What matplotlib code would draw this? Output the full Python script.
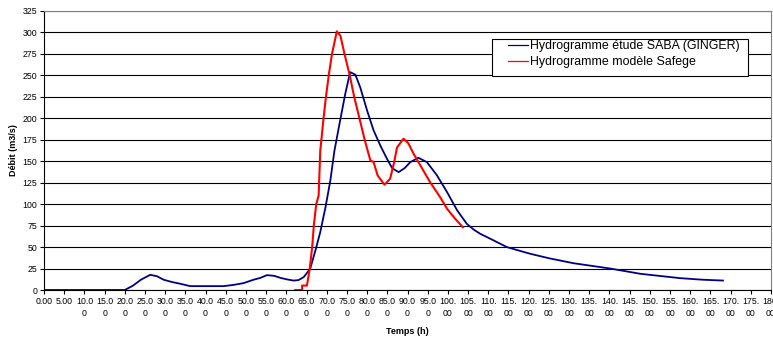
import numpy as np
import matplotlib
matplotlib.use("Agg")
import matplotlib.pyplot as plt
from matplotlib.patches import Rectangle

plt.rcParams['font.family'] = ['Liberation Sans', 'DejaVu Sans']

# Hydrogramme étude SABA (GINGER)
t_saba = [0, 20, 22, 24, 26.3, 28, 29.6, 31.5, 33.8, 36.2, 40, 44.5, 47, 49.4,
          51.9, 53.5, 55.2, 57, 58.5, 60, 61.8, 63, 64.3, 65.9, 67.2, 68.4, 69.7,
          70.9, 71.9, 73.4, 74.6, 75.8, 77.1, 78.3, 80, 81.6, 83.3, 84.9, 86.2,
          87.8, 89.3, 90.7, 92.7, 94.8, 97.3, 99.8, 102.3, 104.7, 106.5, 108,
          110.5, 114.6, 117.9, 120.4, 125, 131.1, 140.2, 147.6, 157.5, 163, 168.1]
q_saba = [0, 0, 5, 12, 17.7, 16, 12, 9.5, 7.2, 4.5, 4.5, 4.5, 6, 8,
          12, 14, 17.3, 16.5, 14.2, 12.5, 11, 11.5, 15, 24.7, 46, 67.4, 96.5,
          127.6, 162, 199.5, 228.7, 253.8, 250.8, 236, 209, 186, 168, 153, 142,
          137.3, 142, 149, 154, 149, 133.5, 114, 92.7, 77, 70, 65.5,
          59.7, 50, 45.5, 42.2, 37, 31.2, 25, 18.9, 13.8, 12, 11]

# Hydrogramme modèle Safege
t_safege = [62.2, 63.9, 63.9, 65.1, 65.8, 66.4, 66.8, 67.4, 68.0, 68.4, 69.2,
            69.8, 70.5, 71.3, 72.5, 73.4, 74.4, 75.7, 76.8, 78.1, 79.4, 80.8,
            81.6, 82.6, 84.3, 85.7, 86.7, 87.4, 89.0, 90.2, 91.5, 93.2, 95.6,
            98.1, 99.8, 101.8, 103.7]
q_safege = [0, 0, 5.2, 5.2, 25, 50, 75, 100, 110, 162, 199.5,
            224.7, 250, 275, 301.3, 296, 275, 250, 225, 200, 175, 151,
            149, 133.5, 122.6, 129.6, 149, 166, 176.2, 171, 158.7, 145, 125.6,
            108, 94.6, 83, 73.2]

x_ticks = np.arange(0, 181, 5)
y_ticks = np.arange(0, 326, 25)


def wrap_label(v):
    # Excel wraps the labels after 4 characters
    s = "%.2f" % v
    return s[:4] + ("\n" + s[4:] if len(s) > 4 else "")


fig = plt.figure(figsize=(7.73, 3.40), dpi=100)
ax = fig.add_axes([44 / 773, 1 - 290 / 340, 727 / 773, 279 / 340])

ax.plot(t_saba, q_saba, color='#000080', lw=1.3, label='Hydrogramme étude SABA (GINGER)')
ax.plot(t_safege, q_safege, color='#ff0000', lw=1.5, label='Hydrogramme modèle Safege')

ax.set_xlim(0, 180)
ax.set_ylim(0, 325)
ax.set_xticks(x_ticks)
ax.set_xticklabels([wrap_label(v) for v in x_ticks], fontsize=6.3, linespacing=1.5)
ax.set_yticks(y_ticks)
ax.set_yticklabels([str(v) for v in y_ticks], fontsize=6.3)
ax.tick_params(axis='both', length=3, width=0.8, pad=2, colors='black')
ax.yaxis.grid(True, color='black', lw=0.8)
ax.set_axisbelow(True)
for side in ['top', 'right']:
    ax.spines[side].set_color('#808080')
for side in ['left', 'bottom']:
    ax.spines[side].set_color('black')

ax.set_xlabel('Temps (h)', fontsize=6.5, fontweight='bold', labelpad=6)
ax.set_ylabel('Débit (m3/s)', fontsize=6.5, fontweight='bold', labelpad=3)

# legend box drawn separately (Excel has wide side padding)
box = Rectangle((492 / 773, 1 - 75.7 / 340), 256 / 773, 36.7 / 340,
                transform=fig.transFigure, facecolor='white', edgecolor='black',
                lw=0.8, zorder=4, clip_on=False)
ax.add_patch(box)
leg = ax.legend(loc='upper left', bbox_to_anchor=(508 / 773, 1 - 40.5 / 340),
                bbox_transform=fig.transFigure, fontsize=8.9, frameon=False,
                handlelength=1.6, handletextpad=0.2, borderpad=0,
                labelspacing=0.3, borderaxespad=0)
leg.set_zorder(5)
for line in leg.get_lines():
    line.set_linewidth(0.9)

fig.savefig('out.png', dpi=100)
